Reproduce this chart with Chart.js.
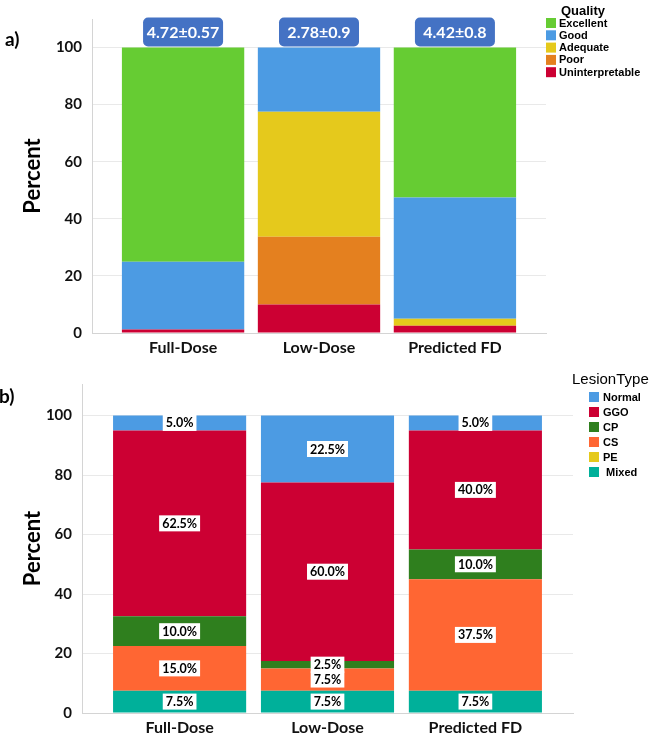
<!DOCTYPE html>
<html>
<head>
<meta charset="utf-8">
<script src="https://cdn.jsdelivr.net/npm/chart.js@4.4.1/dist/chart.umd.min.js"></script>
<style>
  body { margin: 0; background: #fff; }
  canvas { display: block; }
</style>
</head>
<body>
<canvas id="quality" width="649" height="365"></canvas>
<canvas id="lesion" width="649" height="368"></canvas>
<script>
// groups shown on both panels
const groups = ["Full-Dose", "Low-Dose", "Predicted FD"];
const percentTicks = [0, 20, 40, 60, 80, 100];

// a) image quality (% of cases)
const uninterpretable = [1.25, 10, 2.5];
const poor = [0, 23.75, 0];
const adequate = [0, 43.75, 2.5];
const good = [23.75, 22.5, 42.5];
const excellent = [75, 0, 52.5];
const meanScores = ["4.72±0.57", "2.78±0.9", "4.42±0.8"];

// b) lesion type (% of cases)
const mixed = [7.5, 7.5, 7.5];
const pe = [0, 0, 0];
const cs = [15, 7.5, 37.5];
const cp = [10, 2.5, 10];
const ggo = [62.5, 60, 40];
const normal = [5, 22.5, 5];

Chart.defaults.font.family = "Lato, 'DejaVu Sans', sans-serif";

// legend drawn on the right, top to bottom = top of stack first
const sideLegend = {
  id: "sideLegend",
  afterDraw(chart, args, o) {
    const ctx = chart.ctx;
    const r = chart.chartArea.right;
    ctx.save();
    ctx.textBaseline = "middle";
    ctx.fillStyle = "#000";
    ctx.font = o.titleFont;
    ctx.textAlign = o.titleAlign;
    ctx.fillText(o.title, r + o.titleX, o.titleY);
    ctx.font = o.font;
    ctx.textAlign = "left";
    chart.data.datasets.slice().reverse().forEach((ds, i) => {
      const y = o.firstY + i * o.step;
      ctx.fillStyle = ds.backgroundColor;
      ctx.fillRect(r + o.boxX, y - 5, 10, 10);
      ctx.fillStyle = "#000";
      ctx.fillText(ds.label, r + o.textX, y + 0.5);
    });
    ctx.restore();
  }
};

const panelTag = {
  id: "panelTag",
  afterDraw(chart, args, o) {
    const ctx = chart.ctx;
    ctx.save();
    ctx.font = "bold 19px Lato";
    ctx.fillStyle = "#000";
    ctx.textBaseline = "middle";
    ctx.fillText(o.text, o.x, o.y);
    ctx.restore();
  }
};

// blue mean±sd boxes above the bars of panel a
const scoreBoxes = {
  id: "scoreBoxes",
  afterDatasetsDraw(chart) {
    const ctx = chart.ctx;
    const xs = chart.scales.x, ys = chart.scales.y;
    const bottom = ys.getPixelForValue(100) - 1;
    ctx.save();
    meanScores.forEach((t, i) => {
      const cx = xs.getPixelForValue(i + 1);
      ctx.fillStyle = "#4472C4";
      ctx.beginPath();
      ctx.roundRect(cx - 40, bottom - 29, 80, 29, 5);
      ctx.fill();
      ctx.fillStyle = "#fff";
      ctx.font = "bold 16px Lato";
      ctx.textAlign = "center";
      ctx.textBaseline = "middle";
      ctx.fillText(t, cx, bottom - 14);
    });
    ctx.restore();
  }
};

// white value labels in the middle of each segment of panel b
const segLabels = {
  id: "segLabels",
  afterDatasetsDraw(chart) {
    const ctx = chart.ctx;
    ctx.save();
    ctx.font = "bold 12.5px Lato";
    ctx.textAlign = "center";
    ctx.textBaseline = "middle";
    chart.data.datasets.forEach((ds, di) => {
      chart.getDatasetMeta(di).data.forEach((bar, i) => {
        const v = ds.data[i];
        if (!v) return;
        const cy = (bar.y + bar.base) / 2;
        const t = v.toFixed(1) + "%";
        const w = ctx.measureText(t).width + 6;
        ctx.fillStyle = "#fff";
        ctx.fillRect(bar.x - w / 2, cy - 8, w, 16);
        ctx.fillStyle = "#000";
        ctx.fillText(t, bar.x, cy + 0.5);
      });
    });
    ctx.restore();
  }
};

function baseOptions(c) {
  return {
    responsive: false,
    animation: false,
    layout: { padding: { top: c.top, right: c.right, left: 0, bottom: 0 } },
    datasets: { bar: { barPercentage: 0.9, categoryPercentage: 1 } },
    plugins: {
      legend: { display: false },
      tooltip: { enabled: false },
      sideLegend: c.legend,
      panelTag: c.tag
    },
    scales: {
      x: {
        type: "linear",
        stacked: true,
        offset: false,
        min: c.xMin,
        max: c.xMax,
        afterBuildTicks: s => { s.ticks = groups.map((g, i) => ({ value: i + 1 })); },
        afterFit: s => { s.height = c.xHeight; },
        grid: { display: false, drawTicks: false, offset: false },
        border: { color: "#d4d4d4" },
        ticks: {
          padding: 5, color: "#111", maxRotation: 0, autoSkip: false,
          font: { size: 16, weight: "bold" },
          callback: v => groups[v - 1]
        }
      },
      y: {
        stacked: true,
        min: 0,
        max: c.yMax,
        afterBuildTicks: s => { s.ticks = percentTicks.map(v => ({ value: v })); },
        afterFit: s => { s.width = c.yWidth; },
        grid: { color: "#e9e9e9", drawTicks: false },
        border: { color: "#d4d4d4" },
        ticks: { padding: 10, color: "#111", font: { size: 15, weight: "bold" } },
        title: {
          display: true, text: "Percent", color: "#000",
          font: { size: 22, weight: "bold" },
          padding: { top: 20, bottom: 0 }
        }
      }
    }
  };
}

const pos = groups.map((g, i) => i + 1);

new Chart(document.getElementById("quality"), {
  type: "bar",
  data: {
    labels: pos,
    datasets: [
      { label: "Uninterpretable", data: uninterpretable, backgroundColor: "#CC0033" },
      { label: "Poor", data: poor, backgroundColor: "#E4801F" },
      { label: "Adequate", data: adequate, backgroundColor: "#E5C91C" },
      { label: "Good", data: good, backgroundColor: "#4C9BE3" },
      { label: "Excellent", data: excellent, backgroundColor: "#66CC33" }
    ]
  },
  options: baseOptions({
    top: 3, right: 103, xHeight: 32, yWidth: 92, yMax: 110, xMin: 0.33, xMax: 3.67,
    tag: { text: "a)", x: 5, y: 40 },
    legend: {
      title: "Quality", titleFont: "bold 13px 'Liberation Sans'", titleAlign: "center",
      titleX: 37, titleY: 11, font: "bold 11px 'Liberation Sans'",
      boxX: 0, textX: 13, firstY: 23, step: 12.3
    }
  }),
  plugins: [sideLegend, panelTag, scoreBoxes]
});

new Chart(document.getElementById("lesion"), {
  type: "bar",
  data: {
    labels: pos,
    datasets: [
      { label: " Mixed", data: mixed, backgroundColor: "#00B09A" },
      { label: "PE", data: pe, backgroundColor: "#E5C91C" },
      { label: "CS", data: cs, backgroundColor: "#FF6633" },
      { label: "CP", data: cp, backgroundColor: "#2F7F1E" },
      { label: "GGO", data: ggo, backgroundColor: "#CC0033" },
      { label: "Normal", data: normal, backgroundColor: "#4C9BE3" }
    ]
  },
  options: baseOptions({
    top: 5, right: 76, xHeight: 20, yWidth: 82, yMax: 110.6, xMin: 0.34, xMax: 3.66,
    tag: { text: "b)", x: -1, y: 32 },
    legend: {
      title: "LesionType", titleFont: "15px 'Liberation Sans'", titleAlign: "left",
      titleX: -1, titleY: 15, font: "bold 11px 'Liberation Sans'",
      boxX: 16, textX: 30, firstY: 32, step: 15
    }
  }),
  plugins: [sideLegend, panelTag, segLabels]
});
</script>
</body>
</html>
